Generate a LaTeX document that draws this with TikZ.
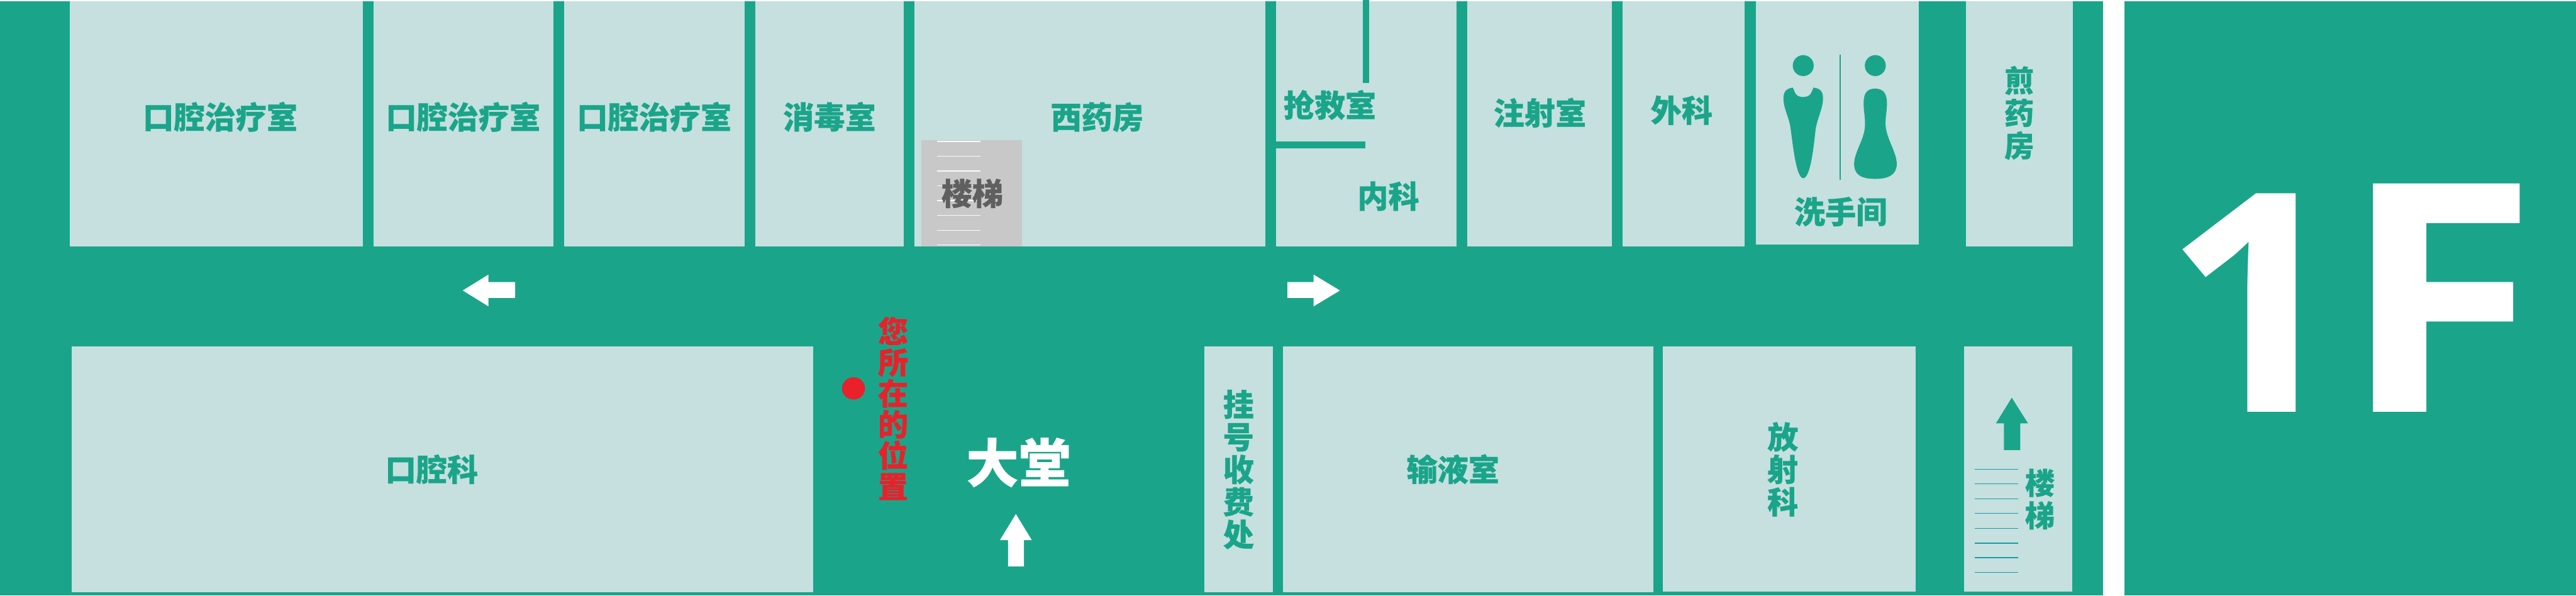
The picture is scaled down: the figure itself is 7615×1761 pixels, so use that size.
\documentclass[tikz,border=0pt]{standalone}
\usepackage{fontspec}
\usepackage{graphicx}
\setmainfont{Noto Sans CJK SC}[BoldFeatures={FakeBold=0.5}]
\newfontfamily\libfont{Open Sans}
\definecolor{wallgreen}{HTML}{1AA58A}
\definecolor{roomlight}{HTML}{C5E0DE}
\definecolor{stairgray}{HTML}{C8C8C8}
\definecolor{dimgrey}{HTML}{5F5F5F}
\definecolor{markred}{HTML}{E8212A}
\definecolor{stepteal}{HTML}{1A9AA5}
\lineskiplimit=-1000pt
\newcommand\toprl{\rule{0pt}{.88em}}
\newcommand\botrl{\rule[-.12em]{0pt}{.12em}}
\newcommand\hlab[1]{\toprl#1\botrl}
\tikzset{
  room/.style={fill=roomlight},
  wall/.style={fill=wallgreen},
  lab/.style={inner sep=0pt,align=center,text=wallgreen,
    font=\bfseries\fontsize{26}{27.3}\selectfont},
  labsmall/.style={inner sep=0pt,align=center,text=wallgreen,
    font=\bfseries\fontsize{25}{27.3}\selectfont},
  labred/.style={inner sep=0pt,align=center,text=markred,
    font=\bfseries\fontsize{25.4}{26.1}\selectfont},
}
\begin{document}
\begin{tikzpicture}[x=0.01cm,y=-0.01cm]
\useasboundingbox (0,0) rectangle (7615,1761);
% green ground
\fill[wall] (0,4) rectangle (6217,1761);
\fill[wall] (6280,4) rectangle (7615,1761);
% upper rooms
\fill[room] (207,3) rectangle (1072,728);
\fill[room] (1104,3) rectangle (1636,728);
\fill[room] (1668,3) rectangle (2201,728);
\fill[room] (2233,3) rectangle (2671,728);
\fill[room] (2703,3) rectangle (3741,728);
\fill[room] (3773,3) rectangle (4305,728);
\fill[room] (4337,3) rectangle (4764,728);
\fill[room] (4796,3) rectangle (5157,728);
\fill[room] (5190,3) rectangle (5673,724);
\fill[room] (5811,3) rectangle (6127,728);
% lower rooms
\fill[room] (212,1025) rectangle (2403,1751);
\fill[room] (3561,1025) rectangle (3762,1751);
\fill[room] (3793,1025) rectangle (4887,1751);
\fill[room] (4916,1025) rectangle (5663,1750);
\fill[room] (5806,1025) rectangle (6126,1750);
% partitions in the emergency room
\fill[wall] (4028,0) rectangle (4047,245);
\fill[wall] (3773,418) rectangle (4037,439);
% stair block
\fill[stairgray] (2723,414) rectangle (3021,728);
\foreach \yy in {418,462,506,549,593,637,681,724}
  \draw[line width=0.8pt,color=white!90!stairgray] (2770,\yy) -- (2898,\yy);
% right stair steps
\foreach \yy in {1388,1431,1475,1518,1562,1606,1649,1693}
  \draw[line width=0.7pt,color=stepteal] (5838,\yy) -- (5966,\yy);
% arrows
\fill[white] (1368,859) -- (1444,812) -- (1444,834) -- (1523,834) -- (1523,881) -- (1444,881) -- (1444,906) -- cycle;
\fill[white] (3961,859) -- (3883,812) -- (3883,834) -- (3806,834) -- (3806,881) -- (3883,881) -- (3883,906) -- cycle;
\fill[white] (3003,1520) -- (3050,1597) -- (3027,1597) -- (3027,1675) -- (2980,1675) -- (2980,1597) -- (2956,1597) -- cycle;
\fill[wall] (5947,1176) -- (5995,1252) -- (5972,1252) -- (5972,1331) -- (5924,1331) -- (5924,1252) -- (5900,1252) -- cycle;
% you-are-here dot
\fill[markred] (2523,1148.5) ellipse [x radius=34,y radius=33];
% washroom pictogram
\fill[wall] (5330.5,194) ellipse [x radius=31,y radius=31];
\fill[wall] (5543.6,194) ellipse [x radius=31,y radius=31];
\fill[wall] (5437,162) rectangle (5442,531);
\fill[wall] (5300,259) .. controls (5305,270) and (5306,287) .. (5330,287)
  .. controls (5355,287) and (5355,270) .. (5361,259)
  .. controls (5385,262) and (5389,275) .. (5389,291)
  .. controls (5389,320) and (5372,350) .. (5367,383)
  .. controls (5362,430) and (5352,527) .. (5330.5,527)
  .. controls (5310,527) and (5300,430) .. (5293,378)
  .. controls (5288,345) and (5272,320) .. (5272,291)
  .. controls (5272,275) and (5277,262) .. (5300,259) -- cycle;
\fill[wall] (5543,262) .. controls (5570,262) and (5578,280) .. (5578,306)
  .. controls (5578,330) and (5573,345) .. (5574,370)
  .. controls (5576,410) and (5607,450) .. (5607,485)
  .. controls (5607,515) and (5585,529) .. (5543,529)
  .. controls (5500,529) and (5481,515) .. (5481,485)
  .. controls (5481,450) and (5513,410) .. (5513,370)
  .. controls (5514,345) and (5509,330) .. (5509,306)
  .. controls (5509,280) and (5516,262) .. (5543,262) -- cycle;
% labels
\node[lab] (t1) at (651,346) {\hlab{口腔治疗室}};
\node[lab] (t2) at (1369,346) {\hlab{口腔治疗室}};
\node[lab] (t3) at (1934,346) {\hlab{口腔治疗室}};
\node[lab] (t4) at (2452,346) {\hlab{消毒室}};
\node[lab] (t5) at (3243,346) {\hlab{西药房}};
\node[lab] (t6) at (3931,311) {\hlab{抢救室}};
\node[lab] (t7) at (4104,580) {\hlab{内科}};
\node[lab,text=dimgrey] (t8) at (2874,572) {\hlab{楼梯}};
\node[lab] (t9) at (4552,334) {\hlab{注射室}};
\node[lab] (t10) at (4971,326) {\hlab{外科}};
\node[lab] (t11) at (5441,626) {\hlab{洗手间}};
\node[labsmall] (t12) at (5969,334) {\toprl 煎\\药\\房\botrl};
\node[lab] (b1) at (1276,1388) {\hlab{口腔科}};
\node[labred] (b2) at (2640,1209) {\toprl 您\\所\\在\\的\\位\\置\botrl};
\node[lab,text=white,font=\bfseries\fontsize{44}{46}\selectfont] (b3) at (3011,1368) {\hlab{大堂}};
\node[lab] (b4) at (3661,1388) {\toprl 挂\\号\\收\\费\\处\botrl};
\node[lab] (b5) at (4295,1388) {\hlab{输液室}};
\node[lab] (b6) at (5270,1388) {\toprl 放\\射\\科\botrl};
\node[labsmall] (b7) at (6030,1476) {\toprl 楼\\梯\botrl};
% floor mark
\node[inner sep=0pt,text=white,anchor=base west,font=\libfont\bfseries\fontsize{269}{275}\selectfont] (floor) at (6395,1219) {\scalebox{1}[0.957]{1}\kern -4.5pt\scalebox{1.12}[1]{F}};
\end{tikzpicture}
\end{document}
